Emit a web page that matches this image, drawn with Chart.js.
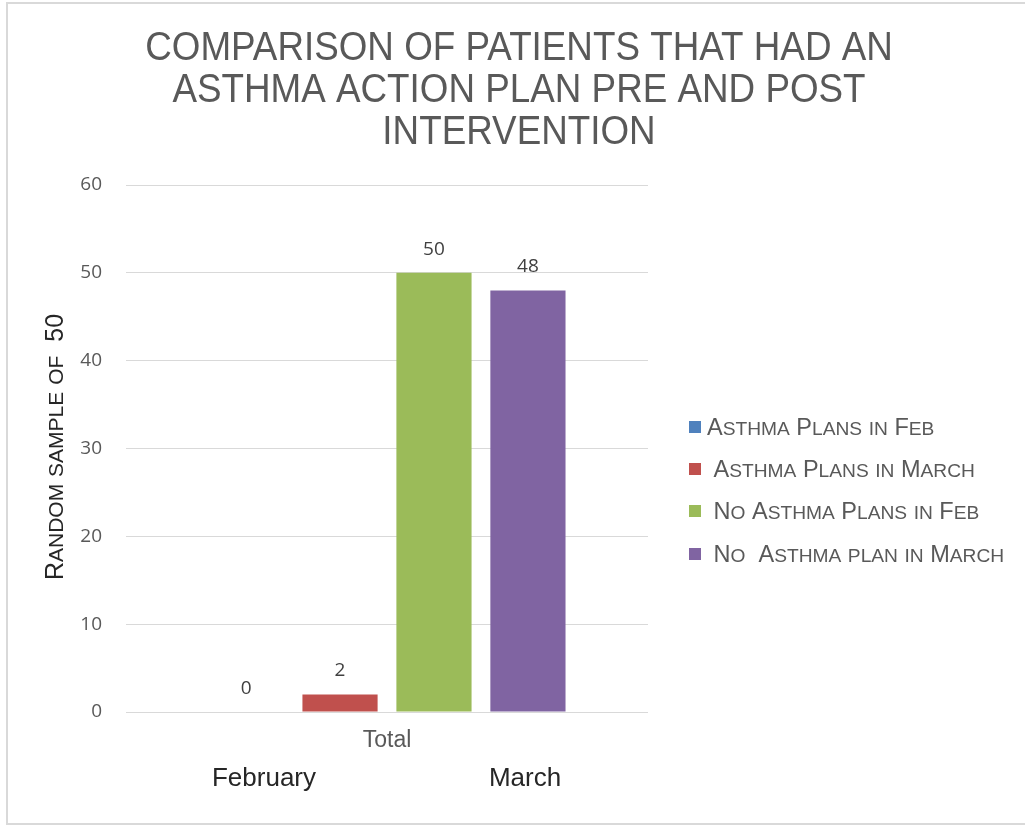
<!DOCTYPE html>
<html>
<head>
<meta charset="utf-8">
<script src="https://cdn.jsdelivr.net/npm/chart.js@4.4.1/dist/chart.umd.min.js"></script>
<style>
  html, body { margin: 0; padding: 0; background: #fff; }
  #wrap { position: relative; width: 1025px; height: 825px; }
</style>
</head>
<body>
<div id="wrap"><canvas id="chart" width="1025" height="825"></canvas></div>
<script>
// data
const categories = ['Total']
const seriesNames = ['Asthma Plans in Feb', ' Asthma Plans in March', ' No Asthma Plans in Feb', ' No  Asthma plan in March']
const seriesValues = [[0], [2], [50], [48]]
const seriesColors = ['#4f81bd', '#c0504d', '#9bbb59', '#8064a2']
const titleLines = ['COMPARISON OF PATIENTS THAT HAD AN', 'ASTHMA ACTION PLAN PRE AND POST', 'INTERVENTION']
const yTitle = 'Random sample of  50'
const monthLabels = ['February', 'March']

const SANS = '"Liberation Sans", Arial, sans-serif'
const NUM = '"Open Sans", sans-serif'

// draws text where lowercase letters become smaller capitals
const smallCaps = (ctx, text, x, y, big, small, align) => {
    let runs = []
    for (let ch of text) {
        let low = ch !== ch.toUpperCase()
        let size = low ? small : big
        let last = runs[runs.length - 1]
        if (last && last.size === size) last.t += ch.toUpperCase()
        else runs.push({t: ch.toUpperCase(), size: size})
    }
    let total = 0
    runs.forEach(r => {
        ctx.font = r.size + 'px ' + SANS
        r.w = ctx.measureText(r.t).width
        total += r.w
    })
    let cx = align === 'center' ? x - total / 2 : x
    ctx.textAlign = 'left'
    runs.forEach(r => {
        ctx.font = r.size + 'px ' + SANS
        ctx.fillText(r.t, cx, y)
        cx += r.w
    })
}

const extras = {
    id: 'extras',
    afterDraw(chart) {
        let ctx = chart.ctx
        ctx.save()

        // frame
        ctx.strokeStyle = '#d9d9d9'
        ctx.lineWidth = 2
        ctx.strokeRect(7, 3, 1030, 821)

        // title (slightly condensed)
        ctx.fillStyle = '#595959'
        ctx.textBaseline = 'alphabetic'
        ctx.textAlign = 'center'
        ctx.font = '40px ' + SANS
        let base = [60, 102, 144]
        titleLines.forEach((line, i) => {
            ctx.save()
            ctx.translate(519, base[i])
            ctx.scale(0.92, 1)
            ctx.fillText(line, 0, 0)
            ctx.restore()
        })

        // y axis title
        ctx.save()
        ctx.translate(63, 447)
        ctx.rotate(-Math.PI / 2)
        ctx.fillStyle = '#262626'
        smallCaps(ctx, yTitle, 0, 0, 25, 21, 'center')
        ctx.restore()

        // legend
        let rows = [427, 469, 511, 554]
        seriesNames.forEach((name, i) => {
            ctx.fillStyle = seriesColors[i]
            ctx.fillRect(689, rows[i] - 6, 12, 12)
            ctx.fillStyle = '#595959'
            smallCaps(ctx, name, 707, rows[i] + 8, 23.5, 19.2, 'left')
        })

        // value labels
        ctx.fillStyle = '#404040'
        ctx.font = '19px ' + NUM
        ctx.textAlign = 'center'
        chart.data.datasets.forEach((ds, i) => {
            let bar = chart.getDatasetMeta(i).data[0]
            ctx.fillText(String(ds.data[0]), bar.x, bar.y - 18)
        })

        // month labels under the axis
        ctx.fillStyle = '#262626'
        ctx.font = '26px ' + SANS
        ctx.fillText(monthLabels[0], 264, 786)
        ctx.fillText(monthLabels[1], 525, 786)

        ctx.restore()
    }
}

new Chart(document.getElementById('chart'), {
    type: 'bar',
    data: {
        labels: categories,
        datasets: seriesNames.map((name, i) => ({
            label: name,
            data: seriesValues[i],
            backgroundColor: seriesColors[i],
            barPercentage: 0.8,
            categoryPercentage: 0.72
        }))
    },
    options: {
        responsive: false,
        animation: false,
        layout: {padding: {top: 185, right: 377, bottom: 58, left: 0}},
        plugins: {
            legend: {display: false},
            tooltip: {enabled: false}
        },
        scales: {
            x: {
                grid: {display: false},
                border: {display: false},
                ticks: {color: '#595959', font: {family: SANS, size: 23}, padding: 7},
                afterFit: s => { s.height = 55 }
            },
            y: {
                min: 0,
                max: 60,
                ticks: {stepSize: 10, color: '#595959', font: {family: NUM, size: 19}, padding: 24},
                grid: {color: '#d9d9d9', drawTicks: false},
                border: {display: false},
                afterFit: s => { s.width = 126 }
            }
        }
    },
    plugins: [extras]
})
</script>
</body>
</html>
